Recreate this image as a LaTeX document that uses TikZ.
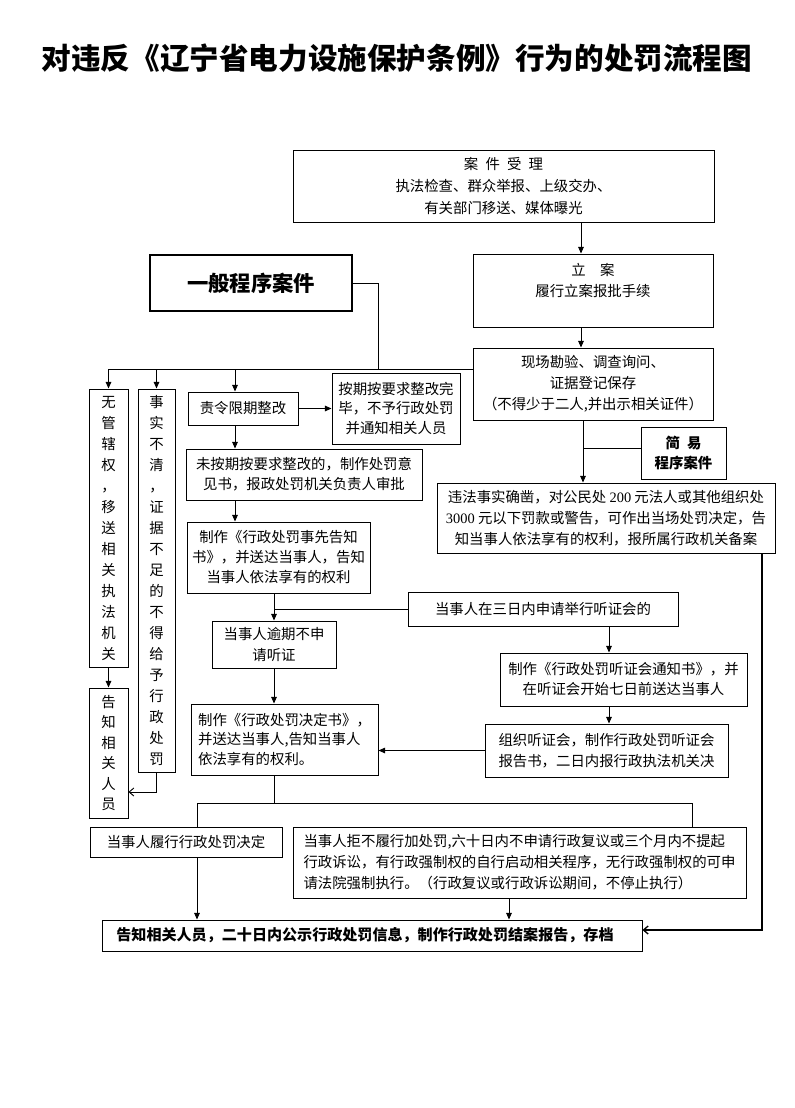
\documentclass[tikz,border=0pt]{standalone}
\usepackage{fontspec}
\setmainfont{Noto Sans CJK SC}
\newfontfamily\lat{Liberation Serif}
\usetikzlibrary{arrows.meta}
\newcommand\fsn{\fontsize{10.8}{15.5}\selectfont}
\newcommand\hsp{\hspace{0.5em}}
\newcommand\mybox[7][]{\node[box,minimum width={(#5-#3)*0.75pt},minimum height={(#6-#4)*0.75pt},#1] (#2) at ({(#3+#5)/2},{(#4+#6)/2}) {#7};}
\begin{document}
\begin{tikzpicture}[x=0.75pt,y=-0.75pt,
  box/.style={draw,line width=0.7pt,inner sep=1pt,align=center,font=\fsn},
  arr/.style={line width=0.7pt,-{Triangle[length=5pt,width=4.2pt]}},
  barb/.style={line width=0.7pt,-{Straight Barb[length=3.5pt,width=6pt]}},
  ln/.style={line width=0.7pt}]
\useasboundingbox (0,0) rectangle (794,1108);
\node[font=\bfseries\fontsize{22.2}{26}\selectfont] (title) at (397,58) {对违反《辽宁省电力设施保护条例》行为的处罚流程图};
% top
\mybox[font=\fontsize{10.8}{16.5}\selectfont]{b1}{293}{150}{714}{222}{案\hsp 件\hsp 受\hsp 理\\执法检查、群众举报、上级交办、\\有关部门移送、媒体曝光}
\mybox{b2}{473}{254}{713}{327}{立\quad 案\\履行立案报批手续\\\mbox{}}
\mybox[line width=1.1pt,font=\bfseries\fontsize{16}{20}\selectfont]{b3}{150}{255}{352}{311}{一般程序案件}
\mybox[font=\fontsize{10.8}{15.75}\selectfont]{b4}{473}{348}{713}{420}{现场勘验、调查询问、\\证据登记保存\\（不得少于二人,并出示相关证件）}
% general procedure
\mybox{b5}{188}{392}{298}{425}{责令限期整改}
\mybox[font=\fontsize{10.8}{14.6}\selectfont]{b6}{332}{373}{460}{444}{按期按要求整改完\\毕，不予行政处罚\\并通知相关人员}
\mybox[font=\fontsize{10.8}{15}\selectfont]{b7}{186}{449}{422}{500}{未按期按要求整改的，制作处罚意\\见书，报政处罚机关负责人审批}
\mybox[font=\fontsize{10.8}{15}\selectfont]{b8}{187}{522}{370}{593}{制作《行政处罚事先告知\\书》，并送达当事人，告知\\当事人依法享有的权利}
\mybox{b9}{408}{592}{678}{626}{当事人在三日内申请举行听证会的}
\mybox{b10}{212}{621}{336}{668}{当事人逾期不申\\请听证}
\mybox[align=left,font=\fontsize{10.8}{14.3}\selectfont]{b11}{191}{704}{378}{775}{制作《行政处罚决定书》，\\并送达当事人,告知当事人\\依法享有的权利。}
\mybox[font=\fontsize{10.8}{15}\selectfont]{b12}{500}{653}{747}{706}{制作《行政处罚听证会通知书》，并\\在听证会开始七日前送达当事人}
\mybox{b13}{485}{724}{728}{777}{组织听证会，制作行政处罚听证会\\报告书，二日内报行政执法机关决}
% simple procedure
\mybox[font=\bfseries\fontsize{10.8}{15}\selectfont]{b14}{641}{427}{726}{479}{简\hsp 易\\程序案件}
\mybox[font=\fontsize{10.8}{15.75}\selectfont]{b15}{437}{483}{775}{553}{违法事实确凿，对公民处 {\lat 200} 元法人或其他组织处\\{\lat 3000} 元以下罚款或警告，可作出当场处罚决定，告\\知当事人依法享有的权利，报所属行政机关备案}
% left columns
\mybox[font=\fontsize{10.8}{15.75}\selectfont]{v1}{89}{389}{128}{667}{无\\管\\辖\\权\\，\\移\\送\\相\\关\\执\\法\\机\\关}
\mybox[font=\fontsize{10.8}{15.75}\selectfont]{v2}{138}{389}{175}{772}{事\\实\\不\\清\\，\\证\\据\\不\\足\\的\\不\\得\\给\\予\\行\\政\\处\\罚}
\mybox[font=\fontsize{10.8}{15.3}\selectfont]{v3}{89}{688}{128}{818}{告\\知\\相\\关\\人\\员}
% bottom
\mybox{b16}{90}{827}{282}{857}{当事人履行行政处罚决定}
\mybox[align=left,font=\fontsize{10.8}{15.75}\selectfont]{b17}{293}{827}{746}{898}{当事人拒不履行加处罚,六十日内不申请行政复议或三个月内不提起\\行政诉讼，有行政强制权的自行启动相关程序，无行政强制权的可申\\请法院强制执行。（行政复议或行政诉讼期间，不停止执行）}
\mybox[font=\bfseries\fontsize{11.3}{14}\selectfont]{b20}{102}{920}{642}{951}{告知相关人员，二十日内公示行政处罚信息，制作行政处罚结案报告，存档\hspace*{10.5pt}}
% coordinates
\coordinate (c581) at (581,0);
\coordinate (c583) at (583,0);
\coordinate (c235) at (235,0);
\coordinate (c609) at (609,0);
\coordinate (c509) at (509,0);
\coordinate (j1) at (378,369);
\coordinate (j2) at (274,803);
\coordinate (j3) at (197,803);
\coordinate (j4) at (692,803);
\coordinate (j5) at (762,930);
\coordinate (j6) at (0,792);
% connectors
\draw[arr] (b1.south -| c581) -- (b2.north -| c581);
\draw[arr] (b2.south -| c581) -- (b4.north -| c581);
\draw[ln] (b3.east) -| (j1);
\draw[ln] (b4.west |- j1) -- (v1.north |- j1);
\draw[arr] (v1.north |- j1) -- (v1.north);
\draw[arr] (v2.north |- j1) -- (v2.north);
\draw[arr] (c235 |- j1) -- (b5.north -| c235);
\draw[arr] (b5.east) -- (b5.east -| b6.west);
\draw[arr] (b5.south -| c235) -- (b7.north -| c235);
\draw[arr] (b7.south -| c235) -- (b8.north -| c235);
\draw[arr] (b8.south -| b10.north) -- (b10.north);
\draw[ln] (b9.west) -- (b9.west -| b10.north);
\draw[arr] (b9.south -| c609) -- (b12.north -| c609);
\draw[arr] (b12.south -| c609) -- (b13.north -| c609);
\draw[arr] (b13.west) -- (b13.west -| b11.east);
\draw[arr] (b10.south) -- (b10.south |- b11.north);
\draw[arr] (b4.south -| c583) -- (b15.north -| c583);
\draw[ln] ([yshift=3.75pt]b14.west) -- ([yshift=3.75pt]b14.west -| c583);
\draw[arr] (v1.south) -- (v3.north);
\draw[barb] (v2.south) -- (v2.south |- j6) -- (v3.east |- j6);
\draw[ln] (b11.south -| j2) -- (j2);
\draw[ln] (b16.north -| j3) -- (j3) -- (j4) -- (b17.north -| j4);
\draw[arr] (b16.south -| j3) -- (b20.north -| j3);
\draw[arr] (b17.south -| c509) -- (b20.north -| c509);
\draw[barb,line width=1pt] (b15.south -| j5) -- (j5) -- (j5 -| b20.east);
\end{tikzpicture}
\end{document}
